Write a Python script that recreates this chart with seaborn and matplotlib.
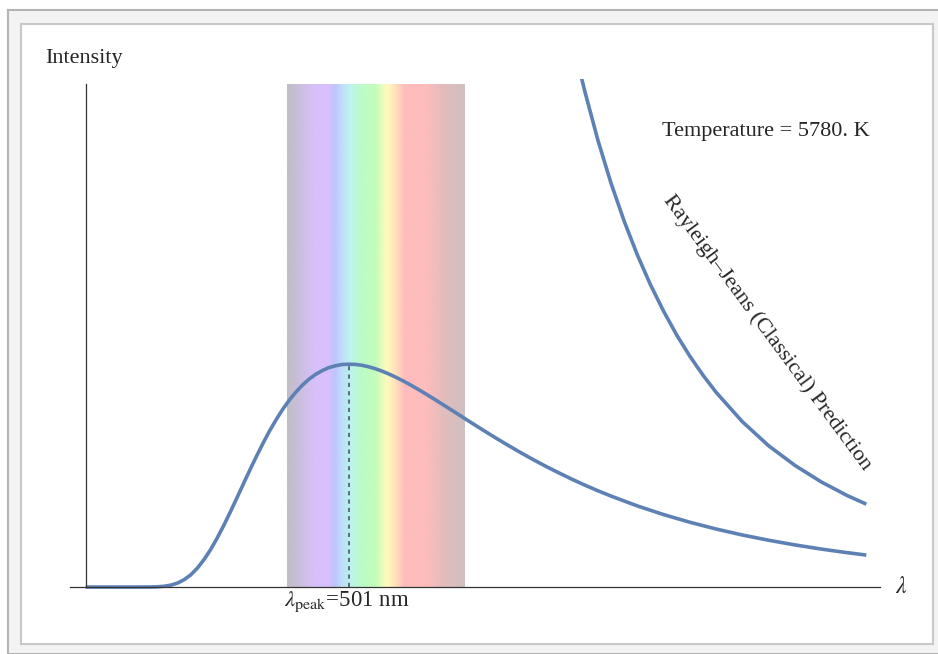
import numpy as np
import pandas as pd
import matplotlib
matplotlib.use("Agg")
import matplotlib.pyplot as plt
import seaborn as sns
from matplotlib.colors import LinearSegmentedColormap
from matplotlib.patches import Rectangle

# Planck curve at 5780 K (intensity relative to the peak)
planck_nm = [0, 50, 100, 125, 137.5, 150, 162.5, 175, 187.5, 200, 212.5, 225, 237.5,
             250, 262.5, 275, 287.5, 300, 312.5, 325, 337.5, 350, 362.5, 375, 387.5,
             400, 412.5, 425, 437.5, 450, 462.5, 475, 487.5, 501, 512.5, 525, 537.5,
             550, 562.5, 575, 587.5, 600, 612.5, 625, 637.5, 650, 662.5, 675, 687.5,
             700, 725, 750, 775, 800, 825, 850, 875, 900, 925, 950, 975, 1000,
             1050, 1100, 1150, 1200, 1250, 1300, 1350, 1400, 1443, 1486]
planck_int = [0.0, 0.0, 0.00001, 0.0003, 0.0013, 0.0037, 0.0089, 0.018, 0.0334, 0.055,
              0.0851, 0.123, 0.1675, 0.219, 0.2755, 0.336, 0.3988, 0.4625, 0.5256,
              0.587, 0.6455, 0.701, 0.7513, 0.798, 0.8388, 0.875, 0.9064, 0.933,
              0.9544, 0.971, 0.9845, 0.993, 0.9986, 1.0, 0.9993, 0.9955, 0.9891,
              0.9808, 0.9703, 0.9583, 0.9448, 0.9302, 0.9145, 0.8979, 0.8807, 0.8629,
              0.8447, 0.8262, 0.8075, 0.7887, 0.7510, 0.7136, 0.6770, 0.6415, 0.6072,
              0.5743, 0.5428, 0.5131, 0.4845, 0.4575, 0.4321, 0.4082,
              0.3641, 0.3252, 0.2908, 0.2604, 0.2336, 0.2100, 0.1891, 0.1705, 0.1563,
              0.1434]

# Rayleigh-Jeans (classical) curve
rj_nm = [900, 912.5, 925, 937.5, 950, 975, 1000, 1025, 1050, 1075, 1100, 1125, 1150,
         1175, 1200, 1250, 1300, 1350, 1400, 1450, 1486]
rj_int = [2.762, 2.613, 2.475, 2.346, 2.225, 2.005, 1.812, 1.642, 1.491, 1.357, 1.238,
          1.131, 1.036, 0.951, 0.874, 0.742, 0.634, 0.546, 0.472, 0.410, 0.372]

peak_nm = 501
peak_int = 1.0

# visible band colour stops (nm, colour)
band_nm = [383, 408, 436, 461, 473, 486, 503, 526, 551, 572, 591, 606, 646, 678, 720]
band_colors = ["#c0bec6", "#ccbee0", "#d8c0fc", "#d8c0fc", "#c0c4fc", "#c0dcfc",
               "#bcf4ec", "#bcfcc4", "#c4fcbc", "#fffcbc", "#ffdcbc", "#ffbcbc",
               "#ffbcbc", "#e4bcbc", "#d0c0c0"]

sns.set_style("white")
plt.rcParams["font.family"] = ["Liberation Serif", "DejaVu Serif"]
plt.rcParams["mathtext.fontset"] = "stix"

curve_color = "#5e81b5"
y_top = 2.256

fig = plt.figure(figsize=(9.38, 6.54), dpi=100)
W, H = 938, 654

# Mathematica-style frame around the picture
fig.add_artist(Rectangle((8 / W, 0), 1, 1 - 10 / H, transform=fig.transFigure,
                         facecolor="#f3f3f3", edgecolor="#b4b4b4", lw=1.5, zorder=-10))
fig.add_artist(Rectangle((21 / W, 10 / H), (933 - 21) / W, (644 - 24) / H,
                         transform=fig.transFigure, facecolor="white",
                         edgecolor="#c8c8c8", lw=1.5, zorder=-9))

ax = fig.add_axes([70 / W, (654 - 591.5) / H, (880 - 70) / W, (591.5 - 79) / H])
ax.patch.set_alpha(0)

# spectrum band
pos = [(v - band_nm[0]) / (band_nm[-1] - band_nm[0]) for v in band_nm]
cmap = LinearSegmentedColormap.from_list("vis", list(zip(pos, band_colors)))
ax.imshow(np.linspace(0, 1, 400).reshape(1, -1), cmap=cmap, aspect="auto",
          extent=[band_nm[0], band_nm[-1], 0, y_top], interpolation="bilinear", zorder=0)

planck_df = pd.DataFrame({"wavelength": planck_nm, "intensity": planck_int})
rj_df = pd.DataFrame({"wavelength": rj_nm, "intensity": rj_int})
sns.lineplot(data=planck_df, x="wavelength", y="intensity", color=curve_color,
             lw=2.6, sort=False, estimator=None, ax=ax, zorder=3,
             solid_joinstyle="round", solid_capstyle="butt")
sns.lineplot(data=rj_df, x="wavelength", y="intensity", color=curve_color,
             lw=2.6, sort=False, estimator=None, ax=ax, zorder=3,
             solid_joinstyle="round", solid_capstyle="butt")

ax.plot([peak_nm, peak_nm], [0, peak_int], color="#4a5660", lw=1.2,
        dashes=(2.5, 2.5), zorder=2)

ax.set_xlim(-30, 1512)
ax.set_ylim(-0.02, 2.28)
for s in ["top", "right"]:
    ax.spines[s].set_visible(False)
ax.spines["left"].set_position(("data", 0))
ax.spines["left"].set_bounds(0, y_top)
ax.spines["bottom"].set_position(("data", 0))
for s in ["left", "bottom"]:
    ax.spines[s].set_color("#333333")
    ax.spines[s].set_linewidth(0.9)
    ax.spines[s].set_zorder(4)
ax.set_xticks([])
ax.set_yticks([])
ax.set_xlabel("")
ax.set_ylabel("")

ax.text(-77, 2.372, "Intensity", fontsize=16, ha="left", va="center", clip_on=False)
ax.text(1552, 0.0, r"$\lambda$", fontsize=17, ha="center", va="center", clip_on=False)
ax.text(peak_nm - 4, -0.065, r"$\lambda_{\mathrm{peak}}$=501 nm", fontsize=16.5,
        ha="center", va="center", clip_on=False)
ax.text(1295, 2.045, "Temperature = 5780. K", fontsize=16, ha="center", va="center")
ax.text(1297, 1.14, "Rayleigh–Jeans (Classical) Prediction", fontsize=16,
        rotation=-53.5, rotation_mode="anchor", ha="center", va="center")

fig.savefig("out.png", dpi=100)
